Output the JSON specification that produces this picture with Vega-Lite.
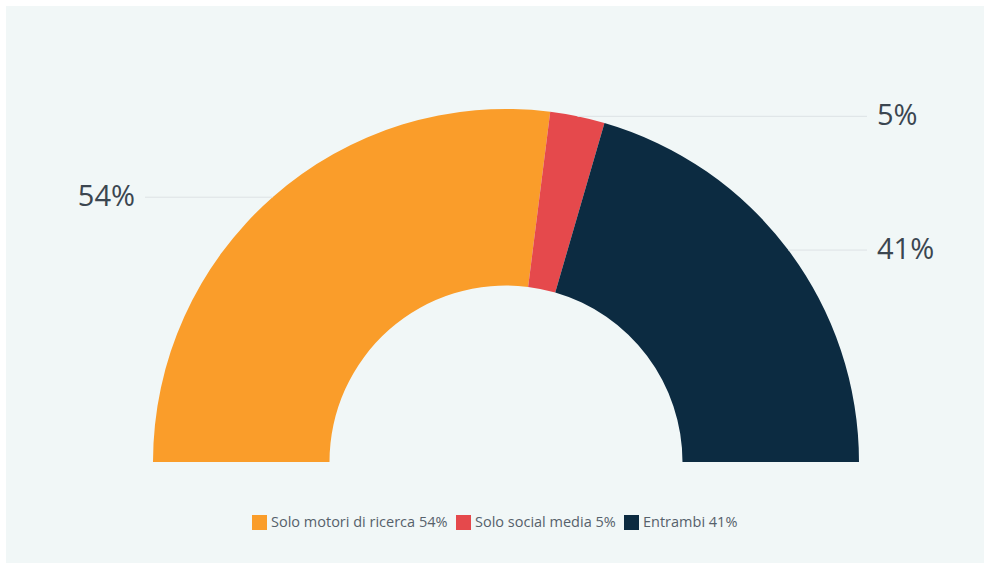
{
  "$schema": "https://vega.github.io/schema/vega-lite/v6.json",
  "width": 978,
  "height": 557,
  "padding": {"left": 6, "top": 6, "right": 0, "bottom": 0},
  "autosize": {"type": "none"},
  "background": "#ffffff",
  "config": {"view": {"fill": "#f1f7f7", "stroke": null}, "font": "Open Sans"},
  "data": {
    "values": [
      {"categoria": "Solo motori di ricerca 54%", "etichetta": "54%", "valore": 54, "ord": 1},
      {"categoria": "Solo social media 5%", "etichetta": "5%", "valore": 5, "ord": 2},
      {"categoria": "Entrambi 41%", "etichetta": "41%", "valore": 41, "ord": 3}
    ]
  },
  "layer": [
    {
      "mark": {"type": "arc", "outerRadius": 353, "innerRadius": 176.5},
      "encoding": {
        "theta": {"field": "valore", "type": "quantitative", "stack": true, "scale": {"range": [-1.5707963, 1.5707963]}},
        "order": {"field": "ord", "type": "quantitative"},
        "color": {
          "field": "categoria",
          "type": "nominal",
          "scale": {
            "domain": ["Solo motori di ricerca 54%", "Solo social media 5%", "Entrambi 41%"],
            "range": ["#fa9d2a", "#e5494c", "#0c2b41"]
          },
          "legend": {
            "orient": "none",
            "legendX": 246,
            "legendY": 509,
            "direction": "horizontal",
            "title": null,
            "symbolType": "square",
            "symbolSize": 225,
            "symbolStrokeWidth": 0,
            "labelFontSize": 14.5,
            "labelLimit": 400,
            "labelColor": "#56616b",
            "labelOffset": 4,
            "columnPadding": 8,
            "padding": 0
          }
        },
        "x": {"datum": 0, "type": "quantitative", "scale": {"domain": [-1.41643, 1.35411], "nice": false, "zero": false}, "axis": null},
        "y": {"datum": 0, "type": "quantitative", "scale": {"domain": [-0.28612, 1.29178], "nice": false, "zero": false}, "axis": null}
      }
    },
    {
      "transform": [
        {"joinaggregate": [{"op": "sum", "field": "valore", "as": "totale"}]},
        {"stack": "valore", "groupby": [], "sort": [{"field": "ord"}], "as": ["v0", "v1"]},
        {"calculate": "((datum.v0 + datum.v1) / 2 / datum.totale) * PI - PI / 2", "as": "ang"},
        {"calculate": "sin(datum.ang)", "as": "px"},
        {"calculate": "cos(datum.ang)", "as": "py"},
        {"calculate": "datum.px < 0 ? -1.0227 : 1.0227", "as": "lx"}
      ],
      "mark": {"type": "rule", "color": "#dde2e5", "strokeWidth": 1},
      "encoding": {
        "x": {"field": "px", "type": "quantitative", "scale": {"domain": [-1.41643, 1.35411], "nice": false, "zero": false}, "axis": null},
        "x2": {"field": "lx"},
        "y": {"field": "py", "type": "quantitative", "scale": {"domain": [-0.28612, 1.29178], "nice": false, "zero": false}, "axis": null}
      }
    },
    {
      "transform": [
        {"joinaggregate": [{"op": "sum", "field": "valore", "as": "totale"}]},
        {"stack": "valore", "groupby": [], "sort": [{"field": "ord"}], "as": ["v0", "v1"]},
        {"calculate": "((datum.v0 + datum.v1) / 2 / datum.totale) * PI - PI / 2", "as": "ang"},
        {"calculate": "cos(datum.ang)", "as": "py"},
        {"filter": "datum.ang < 0"},
        {"calculate": "-1.051", "as": "tx"}
      ],
      "mark": {"type": "text", "align": "right", "baseline": "middle", "fontSize": 29, "color": "#3b4650"},
      "encoding": {
        "x": {"field": "tx", "type": "quantitative", "scale": {"domain": [-1.41643, 1.35411], "nice": false, "zero": false}, "axis": null},
        "y": {"field": "py", "type": "quantitative", "scale": {"domain": [-0.28612, 1.29178], "nice": false, "zero": false}, "axis": null},
        "text": {"field": "etichetta"}
      }
    },
    {
      "transform": [
        {"joinaggregate": [{"op": "sum", "field": "valore", "as": "totale"}]},
        {"stack": "valore", "groupby": [], "sort": [{"field": "ord"}], "as": ["v0", "v1"]},
        {"calculate": "((datum.v0 + datum.v1) / 2 / datum.totale) * PI - PI / 2", "as": "ang"},
        {"calculate": "cos(datum.ang)", "as": "py"},
        {"filter": "datum.ang >= 0"},
        {"calculate": "1.051", "as": "tx"}
      ],
      "mark": {"type": "text", "align": "left", "baseline": "middle", "fontSize": 29, "color": "#3b4650"},
      "encoding": {
        "x": {"field": "tx", "type": "quantitative", "scale": {"domain": [-1.41643, 1.35411], "nice": false, "zero": false}, "axis": null},
        "y": {"field": "py", "type": "quantitative", "scale": {"domain": [-0.28612, 1.29178], "nice": false, "zero": false}, "axis": null},
        "text": {"field": "etichetta"}
      }
    }
  ]
}
